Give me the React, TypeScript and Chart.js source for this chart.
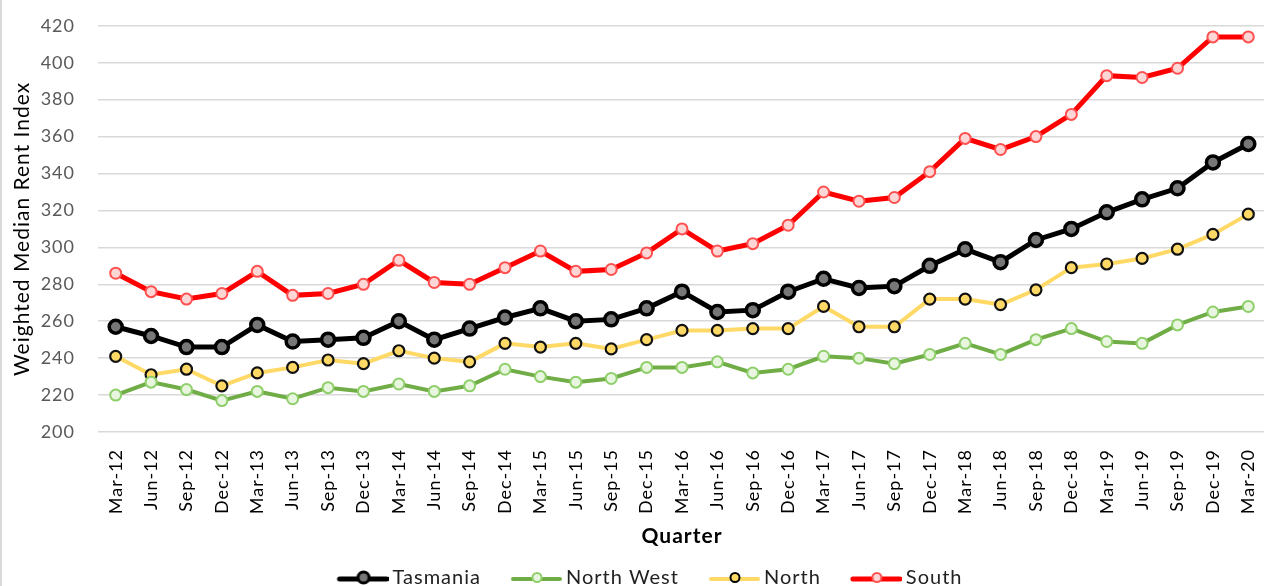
import React, { useEffect, useRef } from "react";
import { Chart, registerables } from "chart.js";

Chart.register(...registerables);

const quarters = [
  "Mar-12", "Jun-12", "Sep-12", "Dec-12",
  "Mar-13", "Jun-13", "Sep-13", "Dec-13",
  "Mar-14", "Jun-14", "Sep-14", "Dec-14",
  "Mar-15", "Jun-15", "Sep-15", "Dec-15",
  "Mar-16", "Jun-16", "Sep-16", "Dec-16",
  "Mar-17", "Jun-17", "Sep-17", "Dec-17",
  "Mar-18", "Jun-18", "Sep-18", "Dec-18",
  "Mar-19", "Jun-19", "Sep-19", "Dec-19",
  "Mar-20",
];

const tasmania = [257, 252, 246, 246, 258, 249, 250, 251, 260, 250, 256, 262, 267, 260, 261, 267, 276, 265, 266, 276, 283, 278, 279, 290, 299, 292, 304, 310, 319, 326, 332, 346, 356];
const northWest = [220, 227, 223, 217, 222, 218, 224, 222, 226, 222, 225, 234, 230, 227, 229, 235, 235, 238, 232, 234, 241, 240, 237, 242, 248, 242, 250, 256, 249, 248, 258, 265, 268];
const north = [241, 231, 234, 225, 232, 235, 239, 237, 244, 240, 238, 248, 246, 248, 245, 250, 255, 255, 256, 256, 268, 257, 257, 272, 272, 269, 277, 289, 291, 294, 299, 307, 318];
const south = [286, 276, 272, 275, 287, 274, 275, 280, 293, 281, 280, 289, 298, 287, 288, 297, 310, 298, 302, 312, 330, 325, 327, 341, 359, 353, 360, 372, 393, 392, 397, 414, 414];

const yMin = 200;
const yMax = 420;
const yStep = 20;

const FONT = "Lato, 'Open Sans', sans-serif";

function legendImage(lineColor: string, lineWidth: number, ptBorder: string, ptFill: string, ptBorderW: number, r: number) {
  const c = document.createElement("canvas");
  c.width = 77;
  c.height = 20;
  const ctx = c.getContext("2d")!;
  ctx.strokeStyle = lineColor;
  ctx.lineWidth = lineWidth;
  ctx.lineCap = "round";
  ctx.beginPath();
  ctx.moveTo(28, 11);
  ctx.lineTo(75, 11);
  ctx.stroke();
  ctx.beginPath();
  ctx.arc(52, 9.5, r, 0, Math.PI * 2);
  ctx.fillStyle = ptFill;
  ctx.fill();
  ctx.lineWidth = ptBorderW;
  ctx.strokeStyle = ptBorder;
  ctx.stroke();
  return c;
}

export default function App() {
  const ref = useRef<HTMLCanvasElement>(null);

  useEffect(() => {
    if (!ref.current) return;
    const imgs = [
      legendImage("#000000", 5, "#000000", "#777777", 3, 5.5),
      legendImage("#70ad47", 4, "#8fcf6a", "#e8f5df", 2, 4.5),
      legendImage("#ffd966", 4, "#000000", "#ffd966", 2, 4.5),
      legendImage("#ff0000", 5, "#ff5050", "#ffd6d6", 2, 4.5),
    ];
    const bgPlugin = {
      id: "bg",
      beforeUpdate(chart: any) {
        chart.ctx.letterSpacing = "1px";
      },
      afterLayout(chart: any) {
        if (chart.legend) {
          chart.legend.left += 7;
          chart.legend.right += 7;
        }
      },
      beforeDraw(chart: any) {
        const { ctx, width, height } = chart;
        ctx.letterSpacing = "1px";
        ctx.save();
        ctx.fillStyle = "#ffffff";
        ctx.fillRect(0, 0, width, height);
        ctx.fillStyle = "#d9d9d9";
        ctx.fillRect(0, 0, 2, height);
        ctx.restore();
      },
    };
    const chart = new Chart(ref.current, {
      type: "line",
      data: {
        labels: quarters,
        datasets: [
          {
            label: "Tasmania",
            data: tasmania,
            borderColor: "#000000",
            borderWidth: 5,
            pointRadius: 6.5,
            pointBorderWidth: 3.5,
            pointBorderColor: "#000000",
            pointBackgroundColor: "#777777",
            tension: 0,
          },
          {
            label: "North West",
            data: northWest,
            borderColor: "#70ad47",
            borderWidth: 4,
            pointRadius: 5.5,
            pointBorderWidth: 2,
            pointBorderColor: "#8fcf6a",
            pointBackgroundColor: "#e8f5df",
            tension: 0,
          },
          {
            label: "North",
            data: north,
            borderColor: "#ffd966",
            borderWidth: 4,
            pointRadius: 5.5,
            pointBorderWidth: 2.2,
            pointBorderColor: "#111111",
            pointBackgroundColor: "#ffd966",
            tension: 0,
          },
          {
            label: "South",
            data: south,
            borderColor: "#ff0000",
            borderWidth: 5,
            pointRadius: 5.5,
            pointBorderWidth: 2,
            pointBorderColor: "#ff5050",
            pointBackgroundColor: "#ffd6d6",
            tension: 0,
          },
        ],
      },
      options: {
        animation: false,
        responsive: false,
        maintainAspectRatio: false,
        layout: { padding: { top: 0, right: 58, left: 0, bottom: -12 } },
        scales: {
          x: {
            offset: true,
            grid: { display: false, drawTicks: false },
            border: { display: false },
            ticks: {
              autoSkip: false,
              minRotation: 90,
              maxRotation: 90,
              color: "#000000",
              font: { family: FONT, size: 18 },
              padding: 17,
            },
            title: {
              display: true,
              text: "Quarter",
              color: "#000000",
              font: { family: FONT, size: 21, weight: "bold" },
              padding: { top: 4, bottom: 9 },
            },
            afterFit: (s: any) => {
              s.height = 126;
            },
          },
          y: {
            min: yMin,
            max: yMax,
            ticks: {
              stepSize: yStep,
              color: "#595959",
              font: { family: FONT, size: 18 },
              padding: 15,
            },
            grid: {
              color: "#d9d9d9",
              lineWidth: 1.5,
              drawTicks: true,
              tickLength: 8,
              tickColor: "rgba(0,0,0,0)",
            },
            border: { display: false },
            title: {
              display: true,
              text: "Weighted Median Rent Index",
              color: "#000000",
              font: { family: FONT, size: 21 },
              padding: { top: 10, bottom: 0 },
            },
            afterFit: (s: any) => {
              s.width = 98;
            },
          },
        },
        plugins: {
          legend: {
            position: "bottom",
            labels: {
              usePointStyle: true,
              pointStyleWidth: 65,
              padding: 10,
              color: "#222222",
              font: { family: FONT, size: 20 },
              generateLabels: (c: any) => {
                const items = Chart.defaults.plugins.legend.labels.generateLabels(c);
                return items.map((it: any, i: number) => ({ ...it, pointStyle: imgs[i] }));
              },
            },
          },
          tooltip: { enabled: false },
        },
      },
      plugins: [bgPlugin],
    });
    return () => chart.destroy();
  }, []);

  return (
    <div style={{ position: "fixed", left: 0, top: 0, width: 1264, height: 586, overflow: "hidden", background: "#fff" }}>
      <canvas ref={ref} width={1324} height={586} style={{ display: "block", width: 1324, height: 586 }} />
    </div>
  );
}
